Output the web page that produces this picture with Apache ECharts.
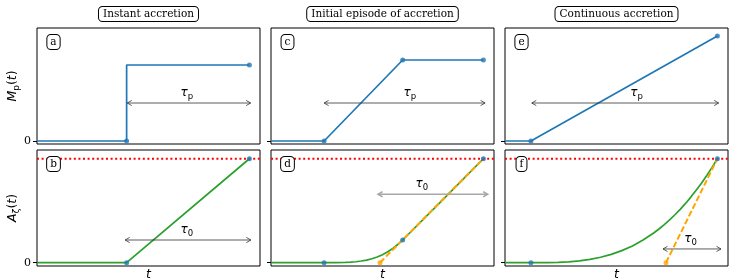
<!DOCTYPE html>
<html><head><meta charset="utf-8">
<script src="https://cdn.jsdelivr.net/npm/echarts@6/dist/echarts.min.js"></script>
<style>html,body{margin:0;padding:0;background:#fff}#c{width:747px;height:280px}</style>
</head><body><div id="c"></div>
<script>
// ---------- data ----------
const columnTitles = ['Instant accretion', 'Initial episode of accretion', 'Continuous accretion'];
const panelLetters = ['a', 'b', 'c', 'd', 'e', 'f'];   // grid order: a,b (col1) c,d (col2) e,f (col3)
const yTickValues = [0];
const xRange = [0, 10.5];
const massRange = [-0.03, 1.13];
const accRange = [-0.032, 1.084];

// top row: planet mass M_p(t)
const massA = [[0, 0], [4.22, 0], [4.22, 0.76], [10, 0.76]];
const massC = [[0, 0], [2.5, 0], [6.2, 0.81], [10, 0.81]];
const massE = [[0, 0], [1.22, 0], [10, 1.05]];
const massDotsA = [[4.22, 0], [10, 0.76]];
const massDotsC = [[2.5, 0], [6.2, 0.81], [10, 0.81]];
const massDotsE = [[1.22, 0], [10, 1.05]];

// bottom row: A_zeta(t)
const accB = [[0, 0], [4.22, 0], [10, 1]];
const accD = [[0, 0], [2.5, 0], [3, 0.0002], [3.5, 0.002], [3.75, 0.005], [4, 0.009], [4.25, 0.016],
  [4.5, 0.025], [4.75, 0.038], [5, 0.055], [5.25, 0.077], [5.5, 0.105], [5.75, 0.139], [6, 0.18],
  [6.2, 0.218], [8, 0.588], [10, 1]];
const accF = [[0, 0], [1.22, 0], [2, 0.0007], [2.5, 0.003], [3, 0.008], [3.5, 0.018], [4, 0.032],
  [4.5, 0.052], [5, 0.08], [5.5, 0.116], [6, 0.161], [6.5, 0.218], [7, 0.285], [7.25, 0.324],
  [7.5, 0.366], [7.75, 0.411], [8, 0.461], [8.25, 0.513], [8.5, 0.57], [8.75, 0.631], [9, 0.696],
  [9.25, 0.765], [9.5, 0.839], [9.75, 0.917], [10, 1]];
const accDotsB = [[4.22, 0], [10, 1]];
const accDotsD = [[2.5, 0], [6.2, 0.218], [10, 1]];
const accDotsF = [[1.22, 0], [10, 1]];
const tangentD = [[5.13, 0], [10, 1]];
const tangentF = [[7.58, 0], [10, 1]];
const saturation = [[0, 1], [10.5, 1]];

// arrows: [start t, end t, level, label t]
const arrowA = [[4.25, 10.06, 0.38, 7.05]];
const arrowC = [[2.5, 10.08, 0.38, 6.54]];
const arrowE = [[1.26, 10.06, 0.38, 6.2]];
const arrowB = [[4.15, 10.07, 0.218, 7.05]];
const arrowD = [[5.04, 10.2, 0.658, 7.1]];
const arrowF = [[7.44, 10.17, 0.132, 8.74]];

// ---------- layout ----------
const colLeft = [37, 271, 505];
const rowTop = [28, 150];
const W = 223, H = 116;
const BLUE = '#1f77b4', GREEN = '#2ca02c', ORANGE = '#ffa500', RED = '#ff0000';
const SANS = '"DejaVu Sans"', SERIF = '"DejaVu Serif"';

const grids = [], xAxes = [], yAxes = [];
for (let c = 0; c < 3; c++) {
  for (let r = 0; r < 2; r++) {
    grids.push({left: colLeft[c], top: rowTop[r], width: W, height: H, show: true,
      borderColor: '#000', borderWidth: 1, backgroundColor: 'transparent', outerBoundsMode: 'none', containLabel: false});
    const gi = grids.length - 1;
    xAxes.push({type: 'value', gridIndex: gi, min: xRange[0], max: xRange[1],
      axisLine: {show: false}, axisTick: {show: false}, axisLabel: {show: false}, splitLine: {show: false},
      name: r === 1 ? 't' : '', nameLocation: 'middle', nameGap: 2,
      nameTextStyle: {fontFamily: SANS, fontStyle: 'italic', fontSize: 12.5, color: '#000', verticalAlign: 'top'}});
    const rng = r === 0 ? massRange : accRange;
    yAxes.push({type: 'value', gridIndex: gi, min: rng[0], max: rng[1],
      axisLine: {show: false}, splitLine: {show: false},
      axisTick: {show: true, customValues: yTickValues, length: 4, lineStyle: {color: '#000', width: 1}},
      axisLabel: {show: c === 0, customValues: yTickValues, margin: 6, fontFamily: SERIF, fontSize: 11, color: '#000'}});
  }
}

function lineSeries(gi, data, color, type, width, z) {
  return {type: 'line', xAxisIndex: gi, yAxisIndex: gi, data: data, showSymbol: false, symbol: 'none',
    lineStyle: {color: color, width: width || 1.7, type: type || 'solid', cap: 'butt'}, z: z || 2,
    animation: false, silent: true, clip: true};
}
function dotSeries(gi, data, color, z) {
  return {type: 'scatter', xAxisIndex: gi, yAxisIndex: gi, data: data, symbol: 'circle', symbolSize: 5,
    itemStyle: {color: color}, z: z || 5, animation: false, silent: true};
}
function arrowSeries(gi, data, sub, color, width) {
  return {type: 'custom', xAxisIndex: gi, yAxisIndex: gi, data: data, z: 4, animation: false, silent: true,
    encode: {x: [0, 1, 3], y: 2},
    renderItem: function (params, api) {
      const y = api.value(2);
      const p1 = api.coord([api.value(0), y]);
      const p2 = api.coord([api.value(1), y]);
      const lb = api.coord([api.value(3), y]);
      const L = 4.5, h = 2.6;
      const st = {stroke: color, lineWidth: width, fill: null};
      return {type: 'group', children: [
        {type: 'line', shape: {x1: p1[0], y1: p1[1], x2: p2[0], y2: p2[1]}, style: st},
        {type: 'polyline', shape: {points: [[p1[0] + L, p1[1] - h], [p1[0], p1[1]], [p1[0] + L, p1[1] + h]]}, style: st},
        {type: 'polyline', shape: {points: [[p2[0] - L, p2[1] - h], [p2[0], p2[1]], [p2[0] - L, p2[1] + h]]}, style: st},
        {type: 'text', x: lb[0], y: lb[1] - 2, style: {
          text: '{t|τ}{s|' + sub + '}', align: 'center', verticalAlign: 'bottom',
          rich: {
            t: {fontFamily: SANS, fontStyle: 'italic', fontSize: 12, fill: '#000', lineHeight: 16, verticalAlign: 'middle'},
            s: {fontFamily: SANS, fontSize: 8.5, fill: '#000', lineHeight: 10, verticalAlign: 'bottom'}
          }}}
      ]};
    }};
}

const series = [
  // col 1
  lineSeries(0, massA, BLUE), dotSeries(0, massDotsA, BLUE), arrowSeries(0, arrowA, 'p', '#333', 0.8),
  lineSeries(1, accB, GREEN), lineSeries(1, saturation, RED, [2, 2.6], 2, 3), dotSeries(1, accDotsB, BLUE),
  arrowSeries(1, arrowB, '0', '#333', 0.8),
  // col 2
  lineSeries(2, massC, BLUE), dotSeries(2, massDotsC, BLUE), arrowSeries(2, arrowC, 'p', '#333', 0.8),
  lineSeries(3, accD, GREEN), lineSeries(3, tangentD, ORANGE, [6, 2.6], 2, 3),
  lineSeries(3, saturation, RED, [2, 2.6], 2, 3), dotSeries(3, accDotsD, BLUE),
  dotSeries(3, [tangentD[0]], ORANGE), arrowSeries(3, arrowD, '0', '#a8a8a8', 1.6),
  // col 3
  lineSeries(4, massE, BLUE), dotSeries(4, massDotsE, BLUE), arrowSeries(4, arrowE, 'p', '#333', 0.8),
  lineSeries(5, accF, GREEN), lineSeries(5, tangentF, ORANGE, [6, 2.6], 2, 3),
  lineSeries(5, saturation, RED, [2, 2.6], 2, 3), dotSeries(5, accDotsF, BLUE),
  dotSeries(5, [tangentF[0]], ORANGE), arrowSeries(5, arrowF, '0', '#333', 0.8)
];

// boxed texts
const graphic = [];
const boxStyle = {fill: '#000', backgroundColor: '#fff', borderColor: '#000', borderWidth: 1, borderRadius: 3.5,
  align: 'center', verticalAlign: 'middle', fontFamily: SERIF, fontSize: 10.5};
for (let c = 0; c < 3; c++) {
  graphic.push({type: 'text', x: colLeft[c] + W / 2, y: 14, z: 10,
    style: Object.assign({}, boxStyle, {text: columnTitles[c], padding: [2, 4, 1, 4]})});
  for (let r = 0; r < 2; r++) {
    graphic.push({type: 'text', x: colLeft[c] + 16.5, y: rowTop[r] + 14, z: 10,
      style: Object.assign({}, boxStyle, {text: panelLetters[c * 2 + r], padding: [2, 3, 1, 3]})});
  }
}
const ylabRich = {
  m: {fontFamily: SANS, fontStyle: 'italic', fontSize: 12.5, fill: '#000', lineHeight: 16, verticalAlign: 'middle'},
  s: {fontFamily: SANS, fontSize: 9, fill: '#000', lineHeight: 10, verticalAlign: 'bottom'},
  n: {fontFamily: SANS, fontSize: 12.5, fill: '#000', lineHeight: 16, verticalAlign: 'middle'},
  i: {fontFamily: SANS, fontStyle: 'italic', fontSize: 12.5, fill: '#000', lineHeight: 16, verticalAlign: 'middle'}
};
graphic.push({type: 'text', x: 13, y: rowTop[0] + H / 2, rotation: Math.PI / 2, z: 10,
  style: {text: '{m|M}{s|p}{n|(}{i|t}{n|)}', rich: ylabRich, align: 'center', verticalAlign: 'middle'}});
graphic.push({type: 'text', x: 13, y: rowTop[1] + H / 2, rotation: Math.PI / 2, z: 10,
  style: {text: '{m|A}{s|ζ}{n|(}{i|t}{n|)}', rich: ylabRich, align: 'center', verticalAlign: 'middle'}});

const chart = echarts.init(document.getElementById('c'), null, {renderer: 'canvas'});
chart.setOption({animation: false, backgroundColor: '#fff', grid: grids, xAxis: xAxes, yAxis: yAxes,
  series: series, graphic: graphic});
</script></body></html>
